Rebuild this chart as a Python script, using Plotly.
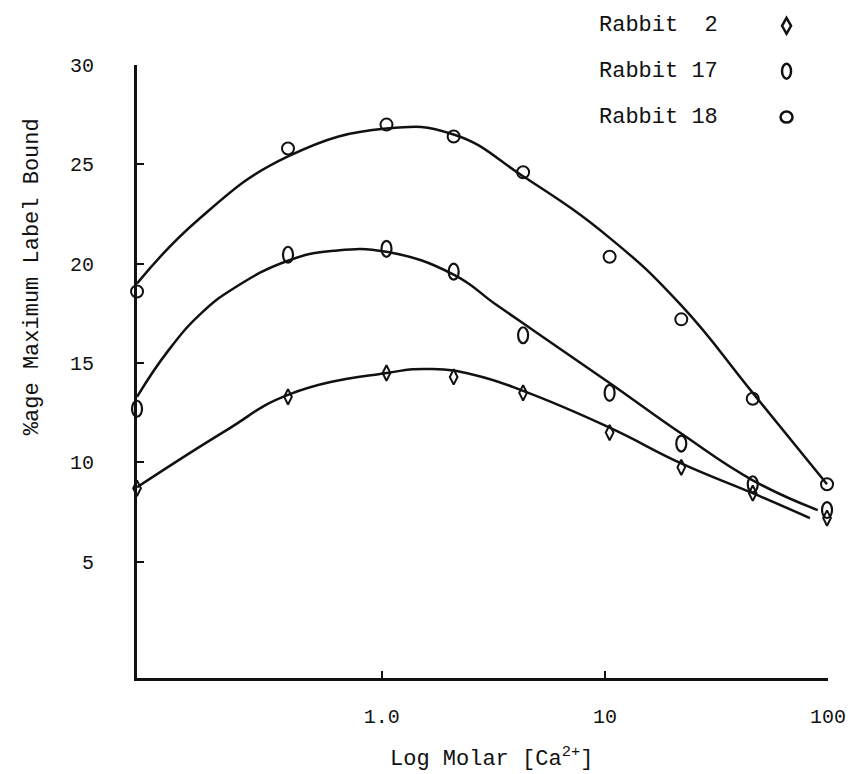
import math
import plotly.graph_objects as go

# ---- data ----
conc = [0.08, 0.38, 1.05, 2.1, 4.3, 10.5, 22, 46, 99]
rabbit2 = [8.7, 13.3, 14.5, 14.3, 13.5, 11.5, 9.75, 8.45, 7.2]
rabbit17 = [12.7, 20.45, 20.75, 19.6, 16.4, 13.5, 10.95, 8.9, 7.6]
rabbit18 = [18.6, 25.8, 27.0, 26.4, 24.6, 20.35, 17.2, 13.2, 8.9]

# hand-drawn fitted curves (knots)
fit18_x = [0.08, 0.15, 0.38, 1.05, 2.1, 4.3, 10.5, 22, 46, 99]
fit18_y = [19.0, 22.2, 25.4, 26.8, 26.5, 24.4, 21.3, 17.9, 13.5, 8.9]
fit17_x = [0.08, 0.11, 0.155, 0.22, 0.38, 0.61, 1.05, 2.1, 3.2, 4.3, 10.5, 22, 46, 90]
fit17_y = [13.3, 15.6, 17.5, 18.8, 20.15, 20.65, 20.6, 19.45, 18.0, 17.0, 14.0, 11.45, 9.1, 7.6]
fit2_x = [0.08, 0.2, 0.38, 1.05, 1.68, 2.6, 4.3, 10.5, 22, 46, 83]
fit2_y = [8.75, 11.6, 13.4, 14.5, 14.7, 14.4, 13.6, 11.75, 9.95, 8.45, 7.2]

x_ticks = [1, 10, 100]
x_ticktext = ["1.0", "10", "100"]
y_ticks = [5, 10, 15, 20, 25, 30]
legend_names = ["Rabbit  2", "Rabbit 17", "Rabbit 18"]

FONT = "Liberation Mono, Courier New, monospace"
INK = "#111111"
X_LOG_RANGE = [-1.097, 2.0]
Y_RANGE = [-0.85, 30]

DIAMOND = "M0,8 L4.5,0 L0,-8 L-4.5,0 Z"

fig = go.Figure()

for fx, fy in [(fit18_x, fit18_y), (fit17_x, fit17_y), (fit2_x, fit2_y)]:
    fig.add_trace(go.Scatter(x=fx, y=fy, mode="lines",
                             line=dict(color=INK, width=2.5, shape="spline", smoothing=1.3),
                             hoverinfo="skip", showlegend=False))

# Rabbit 2: narrow diamonds
fig.add_trace(go.Scatter(x=conc, y=rabbit2, mode="markers", name=legend_names[0],
                         marker=dict(symbol="diamond-tall-open", size=11, color=INK,
                                     line=dict(width=2, color=INK)),
                         cliponaxis=False, showlegend=False))

# Rabbit 17: tall ellipses (invisible hover trace + ellipse outlines placed on the
# same axis scale; paper-referenced so the edge ones are not clipped)
fig.add_trace(go.Scatter(x=conc, y=rabbit17, mode="markers", name=legend_names[1],
                         marker=dict(size=12, opacity=0), showlegend=False))
shapes = []
for cx, cy in zip(conc, rabbit17):
    px = (math.log10(cx) - X_LOG_RANGE[0]) / (X_LOG_RANGE[1] - X_LOG_RANGE[0])
    py = (cy - Y_RANGE[0]) / (Y_RANGE[1] - Y_RANGE[0])
    shapes.append(dict(type="circle", xref="paper", yref="paper", xsizemode="pixel", ysizemode="pixel",
                       xanchor=px, yanchor=py, x0=-5, x1=5, y0=-8, y1=8,
                       line=dict(color=INK, width=2.2), layer="above"))

# Rabbit 18: circles
fig.add_trace(go.Scatter(x=conc, y=rabbit18, mode="markers", name=legend_names[2],
                         marker=dict(symbol="circle-open", size=12, color=INK,
                                     line=dict(width=2, color=INK)),
                         cliponaxis=False, showlegend=False))

# ---- legend: text on the left, symbol on the right (paper coordinates) ----
leg_y = [1.064, 0.99, 0.915]
leg_sym_x = 0.94
leg_txt_x = 0.666
shapes.append(dict(type="path", xref="paper", yref="paper", xsizemode="pixel", ysizemode="pixel",
                   xanchor=leg_sym_x, yanchor=leg_y[0], path=DIAMOND,
                   line=dict(color=INK, width=2.5)))
shapes.append(dict(type="circle", xref="paper", yref="paper", xsizemode="pixel", ysizemode="pixel",
                   xanchor=leg_sym_x, yanchor=leg_y[1], x0=-4.5, x1=4.5, y0=-7.5, y1=7.5,
                   line=dict(color=INK, width=2.5)))
shapes.append(dict(type="circle", xref="paper", yref="paper", xsizemode="pixel", ysizemode="pixel",
                   xanchor=leg_sym_x, yanchor=leg_y[2], x0=-6, x1=6, y0=-5.5, y1=5.5,
                   line=dict(color=INK, width=2.5)))

annotations = []
for name, yy in zip(legend_names, leg_y):
    annotations.append(dict(x=leg_txt_x, y=yy, xref="paper", yref="paper",
                            text=name, showarrow=False, xanchor="left", yanchor="middle",
                            font=dict(family=FONT, size=22, color=INK)))

# axis titles as annotations
annotations.append(dict(x=-0.172, y=0.655, xref="paper", yref="paper",
                        text="%age Maximum Label Bound", textangle=-90, showarrow=False,
                        font=dict(family=FONT, size=22, color=INK)))
annotations.append(dict(x=0.513, y=-0.13, xref="paper", yref="paper",
                        text="Log Molar [Ca<sup>2+</sup>]", showarrow=False, yanchor="middle",
                        font=dict(family=FONT, size=22, color=INK)))

fig.update_layout(
    width=858, height=774,
    margin=dict(l=137, r=20, t=65, b=96),
    paper_bgcolor="white", plot_bgcolor="white",
    showlegend=False,
    annotations=annotations,
    shapes=shapes,
    xaxis=dict(type="log", range=X_LOG_RANGE, tickvals=x_ticks, ticktext=x_ticktext,
               ticks="inside", ticklen=7, tickwidth=2, tickcolor=INK,
               showline=True, linewidth=3, linecolor=INK, showgrid=False, zeroline=False,
               tickfont=dict(family=FONT, size=20, color=INK), ticklabelstandoff=18),
    yaxis=dict(range=Y_RANGE, tickvals=y_ticks,
               ticks="inside", ticklen=7, tickwidth=2, tickcolor=INK,
               showline=True, linewidth=3, linecolor=INK, showgrid=False, zeroline=False,
               tickfont=dict(family=FONT, size=20, color=INK), ticklabelstandoff=36),
)

fig.write_html("out.html")
